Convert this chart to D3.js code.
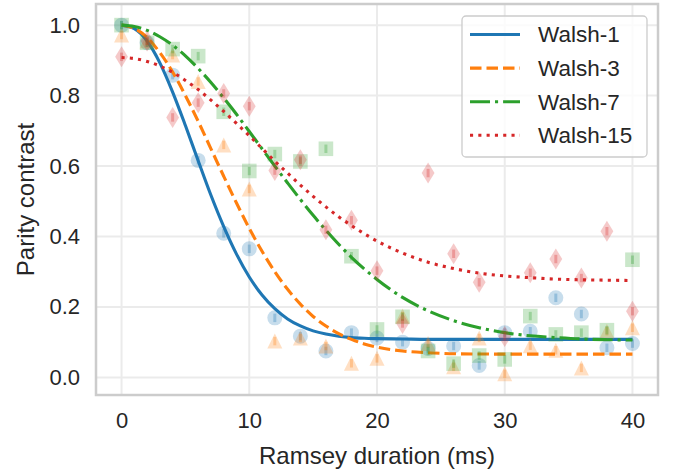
<!DOCTYPE html>
<html>
<head>
<meta charset="utf-8">
<script src="https://cdn.jsdelivr.net/npm/d3@7"></script>
<style>
  html, body { margin: 0; padding: 0; background: #ffffff; }
  svg { display: block; }
  text { font-family: "Liberation Sans", Arial, "DejaVu Sans", sans-serif; fill: #262626; }
</style>
</head>
<body>
<svg id="chart" width="686" height="473"></svg>
<script>
// ---------------- data ----------------
const seriesNames = ["Walsh-1", "Walsh-3", "Walsh-7", "Walsh-15"];
const durations = [0,2,4,6,8,10,12,14,16,18,20,22,24,26,28,30,32,34,36,38,40];

const walsh1Data  = [1.00,0.95,0.858,0.616,0.409,0.365,0.169,0.117,0.075,0.127,0.112,0.100,0.082,0.089,0.034,0.127,0.131,0.226,0.180,0.084,0.096];
const walsh3Data  = [0.972,0.955,0.915,0.840,0.660,0.535,0.103,0.112,0.089,0.040,0.054,0.174,0.096,0.030,0.112,0.010,0.090,0.077,0.027,0.131,0.141];
const walsh7Data  = [1.00,0.950,0.932,0.912,0.754,0.586,0.634,0.613,0.649,0.344,0.136,0.172,0.075,0.039,0.062,0.051,0.174,0.122,0.127,0.134,0.334];
const walsh15Data = [0.910,0.955,0.738,0.780,0.806,0.770,0.587,0.618,0.419,0.446,0.303,0.153,0.580,0.351,0.270,0.116,0.297,0.336,0.282,0.415,0.188];

const errHalf = [0.012, 0.012, 0.012, 0.012];

// fitted curves
const fitT = [0,1,2,3,4,5,6,7,8,9,10,11,12,13,14,15,16,17,18,19,20,22,24,26,28,30,32,34,36,38,40];
const walsh1Fit  = [1.0,0.99,0.955,0.893,0.81,0.715,0.615,0.517,0.428,0.35,0.285,0.234,0.195,0.166,0.146,0.132,0.123,0.117,0.113,0.111,0.110,0.109,0.108,0.108,0.108,0.108,0.108,0.108,0.108,0.108,0.108];
const walsh3Fit  = [1.0,0.991,0.965,0.922,0.867,0.80,0.727,0.649,0.571,0.495,0.423,0.358,0.30,0.25,0.208,0.173,0.146,0.124,0.108,0.095,0.086,0.075,0.070,0.067,0.0665,0.066,0.066,0.066,0.066,0.066,0.066];
const walsh7Fit  = [1.0,0.996,0.985,0.967,0.943,0.913,0.877,0.837,0.793,0.747,0.698,0.649,0.600,0.552,0.505,0.460,0.418,0.378,0.341,0.308,0.278,0.227,0.189,0.161,0.141,0.127,0.118,0.113,0.109,0.107,0.106];
const walsh15Fit = [0.908,0.905,0.897,0.884,0.866,0.843,0.817,0.787,0.755,0.721,0.686,0.650,0.614,0.580,0.546,0.514,0.484,0.456,0.431,0.408,0.387,0.353,0.327,0.309,0.296,0.288,0.283,0.279,0.277,0.276,0.275];

const xTicks = [0,10,20,30,40];
const yTicks = [0.0,0.2,0.4,0.6,0.8,1.0];

// ---------------- styles ----------------
const colors = ["#1f77b4","#ff7f0e","#2ca02c","#d62728"];
const dashes = [null, "11.5,5", "20,5,3.1,5", "3.1,5.2"];
const markers = ["circle","triangle","square","thindiamond"];

const pointsAll = [walsh1Data, walsh3Data, walsh7Data, walsh15Data];
const fitsAll = [walsh1Fit, walsh3Fit, walsh7Fit, walsh15Fit];

const svg = d3.select("#chart");
const L = 96, R = 658, T = 4, B = 395;

const x = d3.scaleLinear().domain([-2, 42]).range([L, R]);
const y = d3.scaleLinear().domain([-0.05, 1.06]).range([B, T]);

// grid
const grid = svg.append("g");
grid.selectAll("line.gx").data(xTicks).enter().append("line")
  .attr("x1", d => x(d)).attr("x2", d => x(d)).attr("y1", T).attr("y2", B)
  .attr("stroke", "#ebebeb").attr("stroke-width", 2);
grid.selectAll("line.gy").data(yTicks).enter().append("line")
  .attr("x1", L).attr("x2", R).attr("y1", d => y(d)).attr("y2", d => y(d))
  .attr("stroke", "#ebebeb").attr("stroke-width", 2);

// axes (labels only)
const xAxis = d3.axisBottom(x).tickValues(xTicks).tickFormat(d3.format("d")).tickSize(0).tickPadding(17);
const gx = svg.append("g").attr("transform", `translate(0,${B})`).call(xAxis);
gx.select(".domain").remove();
gx.selectAll("text").style("font-size", "22px").attr("fill", "#262626");

const yAxis = d3.axisLeft(y).tickValues(yTicks).tickFormat(d3.format(".1f")).tickSize(0).tickPadding(16);
const gy = svg.append("g").attr("transform", `translate(${L},0)`).call(yAxis);
gy.select(".domain").remove();
gy.selectAll("text").style("font-size", "22px").attr("fill", "#262626");

// marker path
function markerPath(type, cx, cy) {
  if (type === "circle") {
    const r = 7.5;
    return `M${cx - r},${cy}a${r},${r} 0 1,0 ${2*r},0a${r},${r} 0 1,0 ${-2*r},0Z`;
  }
  if (type === "square") {
    const h = 7.3;
    return `M${cx-h},${cy-h}H${cx+h}V${cy+h}H${cx-h}Z`;
  }
  if (type === "triangle") {
    const h = 7.5;
    return `M${cx},${cy-h}L${cx+h},${cy+h}L${cx-h},${cy+h}Z`;
  }
  // thin diamond
  const hw = 6.4, hh = 10.5;
  return `M${cx},${cy-hh}L${cx+hw},${cy}L${cx},${cy+hh}L${cx-hw},${cy}Z`;
}

const line = d3.line().x(d => x(d[0])).y(d => y(d[1])).curve(d3.curveMonotoneX);

const plot = svg.append("g");
seriesNames.forEach((name, i) => {
  const g = plot.append("g");
  const pts = durations.map((t, k) => [t, pointsAll[i][k]]);
  // error bars
  g.selectAll("line.err").data(pts).enter().append("line")
    .attr("x1", d => x(d[0])).attr("x2", d => x(d[0]))
    .attr("y1", d => y(d[1] - errHalf[i])).attr("y2", d => y(d[1] + errHalf[i]))
    .attr("stroke", colors[i]).attr("stroke-opacity", 0.3).attr("stroke-width", 3);
  // markers
  g.selectAll("path.mk").data(pts).enter().append("path")
    .attr("d", d => markerPath(markers[i], x(d[0]), y(d[1])))
    .attr("fill", colors[i]).attr("fill-opacity", 0.25).attr("stroke", "none");
  // fit line
  const fitPts = fitT.map((t, k) => [t, fitsAll[i][k]]);
  g.append("path").datum(fitPts).attr("d", line)
    .attr("fill", "none").attr("stroke", colors[i]).attr("stroke-width", 3.1)
    .attr("stroke-dasharray", dashes[i]);
});

// frame
svg.append("rect").attr("x", L).attr("y", T).attr("width", R - L).attr("height", B - T)
  .attr("fill", "none").attr("stroke", "#cccccc").attr("stroke-width", 2.5);

// axis titles
svg.append("text").attr("x", (L + R) / 2).attr("y", 464).attr("text-anchor", "middle")
  .style("font-size", "24px").text("Ramsey duration (ms)");
svg.append("text").attr("transform", `translate(34,${(T + B) / 2}) rotate(-90)`)
  .attr("text-anchor", "middle").style("font-size", "24px").text("Parity contrast");

// legend
const lg = svg.append("g");
lg.append("rect").attr("x", 462).attr("y", 16).attr("width", 185).attr("height", 141)
  .attr("rx", 4).attr("fill", "#ffffff").attr("fill-opacity", 0.8)
  .attr("stroke", "#cccccc").attr("stroke-width", 1.3);
seriesNames.forEach((name, i) => {
  const cy = 34.5 + i * 33.6;
  lg.append("line").attr("x1", 470).attr("x2", 520).attr("y1", cy).attr("y2", cy)
    .attr("stroke", colors[i]).attr("stroke-width", 3.1).attr("stroke-dasharray", dashes[i]);
  lg.append("text").attr("x", 538).attr("y", cy).attr("dy", "0.35em")
    .style("font-size", "22.5px").text(name);
});
</script>
</body>
</html>
